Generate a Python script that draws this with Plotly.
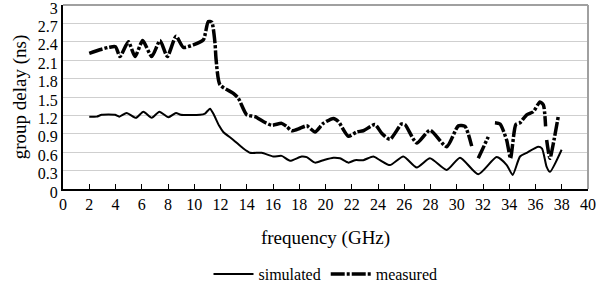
import plotly.graph_objects as go

sim_x = [2.0, 2.57, 2.95, 3.96, 4.29, 4.85, 5.56, 6.12, 6.76, 7.34, 8.03, 8.61, 8.97, 10.44, 10.82, 11.2,
         11.45, 11.9, 12.21, 12.98, 13.74, 14.25, 15.14, 16.02, 16.66, 17.3, 18.18, 18.57, 19.2, 19.83,
         20.6, 21.1, 21.74, 22.25, 22.88, 23.64, 24.15, 24.91, 25.93, 26.95, 27.96, 29.23, 30.25, 31.64,
         33.04, 33.81, 34.26, 34.82, 35.33, 36.21, 36.5, 36.85, 37.1, 37.99]
sim_y = [1.18, 1.18, 1.21, 1.21, 1.18, 1.24, 1.16, 1.26, 1.16, 1.26, 1.17, 1.24, 1.21, 1.21, 1.23, 1.31,
         1.23, 1.03, 0.93, 0.80, 0.66, 0.59, 0.59, 0.53, 0.54, 0.46, 0.53, 0.52, 0.43, 0.47,
         0.51, 0.50, 0.43, 0.47, 0.47, 0.53, 0.47, 0.39, 0.53, 0.35, 0.50, 0.31, 0.51, 0.24,
         0.52, 0.39, 0.23, 0.53, 0.59, 0.69, 0.66, 0.36, 0.28, 0.64]

meas_x = [2.0, 2.8, 3.5, 4.0, 4.34, 4.98, 5.49, 6.07, 6.76, 7.39, 7.95, 8.61, 9.17, 9.93, 10.69, 11.07,
          11.33, 11.58, 11.66, 11.96, 12.98, 13.36, 14.0, 14.63, 15.26, 15.9, 16.66, 17.04, 17.42, 18.06,
          18.57, 19.2, 19.83, 20.6, 20.98, 21.74, 22.38, 22.88, 23.77, 24.28, 24.91, 25.8, 26.06, 26.95,
          27.96, 29.23, 30.12, 30.63, 31.14, 31.4, 31.64, 32.4, 32.65, 32.91, 33.3, 33.8, 34.1, 34.5,
          34.82, 35.33, 35.83, 36.34, 36.6, 36.77, 36.81, 36.85, 37.1, 37.41, 37.74]
meas_y = [2.21, 2.27, 2.31, 2.32, 2.16, 2.40, 2.16, 2.42, 2.16, 2.42, 2.16, 2.49, 2.31, 2.35, 2.43, 2.73,
          2.72, 2.38, 2.12, 1.70, 1.56, 1.48, 1.21, 1.18, 1.10, 1.04, 1.07, 1.02, 0.95, 0.99,
          1.03, 0.93, 1.07, 1.15, 1.10, 0.86, 0.93, 0.95, 1.05, 0.91, 0.81, 1.06, 1.05, 0.75,
          0.96, 0.69, 1.03, 1.02, 0.70, None, 0.50, 0.85, None, 1.08, 1.06, 0.80, 0.50, 1.05,
          1.08, 1.21, 1.26, 1.42, 1.37, 1.02, None, 0.80, 0.50, 0.80, 1.19]

x_ticks = list(range(0, 41, 2))
y_ticks = [0, 0.3, 0.6, 0.9, 1.2, 1.5, 1.8, 2.1, 2.4, 2.7, 3]
y_labels = ["0", "0.3", "0.6", "0.9", "1.2", "1.5", "1.8", "2.1", "2.4", "2.7", "3"]

font = dict(family="Liberation Serif, Times New Roman, serif", size=16, color="black")

fig = go.Figure()
fig.add_trace(go.Scatter(x=sim_x, y=sim_y, mode="lines", name="simulated",
                         line=dict(color="black", width=2, shape="spline", smoothing=0.6)))
fig.add_trace(go.Scatter(x=meas_x, y=meas_y, mode="lines", name="measured",
                         line=dict(color="black", width=3.5, dash="14px,2px,3px,2px",
                                   shape="spline", smoothing=0.6),
                         connectgaps=False))

fig.update_layout(
    width=604, height=288,
    margin=dict(l=63, r=16, t=5, b=99, autoexpand=False),
    paper_bgcolor="white", plot_bgcolor="white",
    font=font,
    showlegend=True,
    legend=dict(orientation="h", x=0.5, xanchor="center", y=-0.37, yanchor="top",
                font=dict(size=16), itemwidth=40, bgcolor="rgba(0,0,0,0)"),
    xaxis=dict(range=[0, 40], tickvals=x_ticks, ticks="inside", ticklen=5, tickcolor="black",
               showline=True, linecolor="black", linewidth=2, showgrid=False, zeroline=False,
               ticklabeloverflow="allow", automargin=False,
               title=dict(text="frequency (GHz)", standoff=18), tickfont=dict(size=16)),
    yaxis=dict(range=[0, 3], tickvals=y_ticks, ticktext=y_labels, ticks="",
               showline=True, linecolor="black", linewidth=2, showgrid=True,
               gridcolor="#cfcfcf", gridwidth=1, zeroline=False,
               ticklabeloverflow="allow", automargin=False, ticklabelshift=3,
               title=dict(text="group delay (ns)", standoff=6), tickfont=dict(size=16)),
)
fig.add_shape(type="line", xref="x domain", yref="y domain", x0=0, x1=1, y0=1, y1=1,
              line=dict(color="#a0a0a0", width=2))
fig.add_shape(type="line", xref="x domain", yref="y domain", x0=1, x1=1, y0=0, y1=1,
              line=dict(color="#a0a0a0", width=2))

fig.write_html("out.html")
